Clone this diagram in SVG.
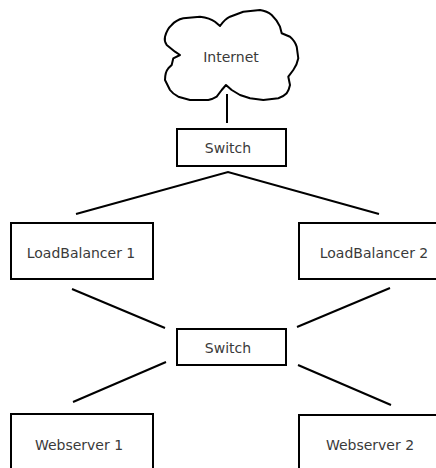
<svg xmlns="http://www.w3.org/2000/svg" width="436" height="468" viewBox="0 0 436 468">
<style>
.box{fill:#fff;stroke:#000;stroke-width:2}
.lbl{font-family:"DejaVu Sans",sans-serif;font-size:14px;fill:#3a3a3a;text-anchor:middle}
.ln{stroke:#000;stroke-width:2;fill:none}
</style>
<rect width="436" height="468" fill="#fff"/>
<g id="connectors">
<line class="ln" x1="227" y1="94" x2="227" y2="123"/>
<polyline class="ln" points="76,214 228,172 379,214"/>
<line class="ln" x1="72" y1="289" x2="165" y2="328"/>
<line class="ln" x1="390" y1="288" x2="297" y2="327"/>
<line class="ln" x1="166" y1="362" x2="73" y2="402"/>
<line class="ln" x1="298" y1="365" x2="391" y2="405"/>
</g>
<g id="internet">
<path class="ln" stroke-width="1.3" stroke-linejoin="round" d="M171.7,25 Q176,20 183.3,18.3 L200,16.7 Q210,18 215,21.7 L220,26 Q225,19 230,16.7 L243.3,11.7 L260,10 Q267,11 271.7,15 Q277,20 280,26.7 L281.7,33.3 L290,36.7 Q295,41 296.7,46.7 L298.3,58.3 Q297,65 293.3,70 L288.3,76.7 L290,85 Q289,90 286.7,93.3 Q283,97 278.3,98.3 L263.3,100 L250,98.3 L240,95 L231.7,90 L226,85 L221.7,90 L216.7,96.7 Q213,99 208.3,100 L190,100 L178.3,96.7 Q173,94 170,90 L165,80 Q165,72 168.3,68.3 L171.7,65 L173.3,58.3 L180,55 L175,51.7 L166.7,45 Q164,41 165,36.7 Q167,29 171.7,25 Z"/>
<text class="lbl" x="231" y="62">Internet</text>
</g>
<g id="switch1">
<rect class="box" x="177" y="129" width="109" height="37"/>
<text class="lbl" x="228" y="153">Switch</text>
</g>
<g id="lb1">
<rect class="box" x="11" y="223" width="142" height="56"/>
<text class="lbl" x="81" y="258">LoadBalancer 1</text>
</g>
<g id="lb2">
<rect class="box" x="299" y="223" width="150" height="56"/>
<text class="lbl" x="374" y="258">LoadBalancer 2</text>
</g>
<g id="switch2">
<rect class="box" x="177" y="329" width="109" height="36"/>
<text class="lbl" x="228" y="353">Switch</text>
</g>
<g id="ws1">
<rect class="box" x="11" y="414" width="142" height="70"/>
<text class="lbl" x="79" y="450">Webserver 1</text>
</g>
<g id="ws2">
<rect class="box" x="299" y="415" width="150" height="70"/>
<text class="lbl" x="370" y="450">Webserver 2</text>
</g>
</svg>
